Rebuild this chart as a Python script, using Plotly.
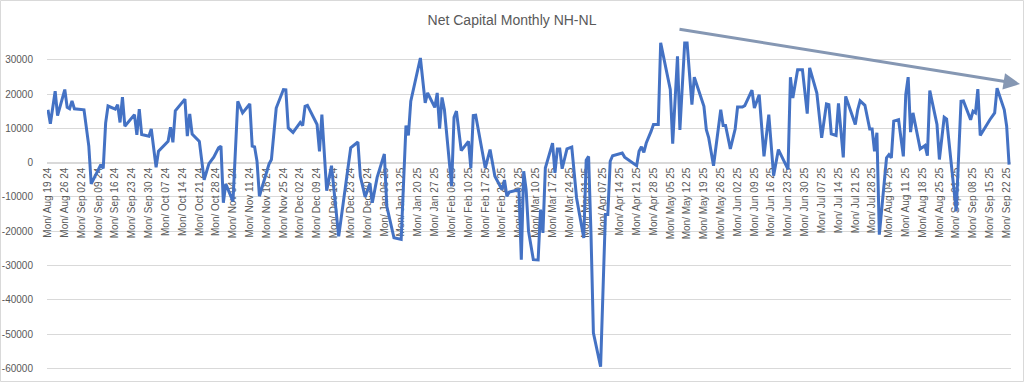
import pandas as pd
import plotly.graph_objects as go

# ---- data ----
start_date = "2024-08-19"
day_offsets = [0,1,3,4,7,8,9,10,11,15,17,18,22,23,24,25,28,29,30,31,32,36,37,38,39,42,43,45,46,50,51,52,53,57,58,59,60,63,65,67,
               69,71,72,73,74,77,79,81,84,85,86,87,88,92,93,95,98,99,100,102,105,106,107,108,112,113,114,116,118,121,126,129,130,132,134,135,
               137,140,141,144,147,149,150,151,155,157,158,161,162,163,164,165,168,169,170,172,175,176,177,178,182,184,186,189,190,191,192,196,197,198,199,200,
               202,204,205,206,207,210,211,212,213,214,216,218,220,223,224,225,226,227,230,232,233,234,235,239,240,245,246,247,248,249,251,252,254,255,259,260,262,263,265,266,
               268,269,273,274,275,277,280,281,282,284,286,287,289,290,293,294,296,298,300,302,304,308,309,310,312,314,316,317,320,322,324,325,326,328,329,331,332,
               336,337,338,340,342,343,344,345,346,349,350,351,352,354,356,357,358,359,360,363,365,366,367,370,371,373,374,378,380,381,384,385,386,387,388,392,394,395,398,399,400]
nh_nl = [15400,11300,20800,13700,21300,16100,15700,18000,15700,15400,4800,-6200,-600,-1700,11500,16500,15600,16900,11700,19100,10600,14000,8100,15600,8200,7700,9800,-1400,3300,6200,10300,5900,15100,18500,7700,14200,8300,6200,-5000,-300,
         1600,4300,4800,-11700,-6200,-11300,17900,14500,17100,4800,4600,400,-9800,-400,900,15900,21300,21200,10100,8800,11700,10800,16400,16700,11100,3300,14000,-8200,-900,-21500,4300,6000,-4000,-10000,-6100,-11700,
         -4300,2500,-12700,-21900,-22400,10800,7900,17900,30500,17400,20300,16100,20300,9900,19000,15400,-6900,13200,15000,3500,6200,-1600,13700,13800,-1600,3800,-4000,-7900,-5100,-9800,-8600,-7900,-28300,-2500,-7900,-20000,
         -28300,-28400,-13700,-20500,-1600,5700,-3000,4000,4000,-1800,4000,4500,-10300,-22000,700,1800,-20700,-49600,-59500,-15100,-15100,400,2000,2800,1600,-900,3300,4600,3000,5700,9100,11100,11100,34900,21300,5500,31000,9500,34900,34900,
         16900,24900,16400,9600,7200,-900,15400,10800,10800,4000,9800,16200,16200,16600,21100,15900,19800,1800,14000,-3800,3800,-2000,24900,18800,27100,27100,14300,27600,20300,7200,17100,16900,8400,7900,17300,1500,19300,
         11100,15400,18000,16700,9800,9800,3300,8700,-21000,1400,2300,1400,12100,12500,1800,19800,24900,8900,14500,4000,5000,2000,21000,11100,900,13200,12700,-14200,17900,18000,12500,15000,14500,21400,7900,12500,14500,21700,15400,10600,-600]
y_tick_values = [-60000, -50000, -40000, -30000, -20000, -10000, 0, 10000, 20000, 30000]
first_tick = "2024-08-19"
last_tick = "2025-09-22"
title_text = "Net Capital Monthly NH-NL"

base = pd.Timestamp(start_date)
dates = [base + pd.Timedelta(days=d) for d in day_offsets]
tick_dates = pd.date_range(first_tick, last_tick, freq="7D")
tick_text = ["Mon/ " + t.strftime("%b %d %y") for t in tick_dates]

W, H = 1024, 382
ML, MR, MT, MB = 47, 13, 26, 12
y_min, y_max = -60466, 39825
x_lo = base + pd.Timedelta(hours=-9.6)
x_hi = base + pd.Timedelta(hours=400.8 * 24)
zero_pos = (0 - y_min) / (y_max - y_min)

FONT = "Liberation Sans, Arial, sans-serif"
GRAY = "#595959"
GRID = "#D9D9D9"

fig = go.Figure()
fig.add_trace(go.Scatter(x=dates, y=nh_nl, mode="lines",
                         line=dict(color="#4472C4", width=3), hoverinfo="x+y",
                         showlegend=False))

pw = W - ML - MR
ph = H - MT - MB
def px_x(p):
    return (p - ML) / pw
def px_y(p):
    return (H - MB - p) / ph

# trend arrow
tip_x, tip_y = 1020, 84
tail_x, tail_y = 678, 29
fig.add_annotation(x=px_x(tip_x), y=px_y(tip_y), xref="paper", yref="paper",
                   ax=tail_x - tip_x, ay=tail_y - tip_y, text="", showarrow=True,
                   arrowhead=2, arrowsize=1.1, arrowwidth=3, arrowcolor="#8597B3", standoff=0)

# chart border
fig.add_shape(type="rect", xref="paper", yref="paper",
              x0=px_x(0.5), x1=px_x(W - 0.5), y0=px_y(H - 0.5), y1=px_y(0.5),
              line=dict(color=GRID, width=1), layer="below")

fig.update_layout(
    width=W, height=H,
    margin=dict(l=ML, r=MR, t=MT, b=MB, autoexpand=False),
    paper_bgcolor="white", plot_bgcolor="white",
    font=dict(family=FONT, color=GRAY, size=10),
    title=dict(text=title_text, x=0.5, xref="container", xanchor="center",
               y=1 - 20 / H, yref="container", yanchor="middle",
               font=dict(family=FONT, size=14, color=GRAY)),
    xaxis=dict(type="date", range=[x_lo, x_hi], anchor="free", position=zero_pos,
               tickvals=list(tick_dates), ticktext=tick_text, tickangle=-90,
               showgrid=False, showline=True, linecolor=GRID, linewidth=1,
               ticks="", tickfont=dict(family=FONT, size=10, color=GRAY),
               layer="below traces", zeroline=False, automargin=False),
    yaxis=dict(range=[y_min, y_max], tickvals=y_tick_values,
               ticktext=[str(v) for v in y_tick_values],
               showgrid=True, gridcolor=GRID, gridwidth=1, zeroline=False,
               ticks="outside", ticklen=11, tickcolor="rgba(0,0,0,0)",
               tickfont=dict(family=FONT, size=10, color=GRAY), showline=False,
               automargin=False),
)

fig.write_html("out.html", config={"displayModeBar": False},
               post_script="document.body.style.margin='0';document.body.style.overflow='hidden';")
